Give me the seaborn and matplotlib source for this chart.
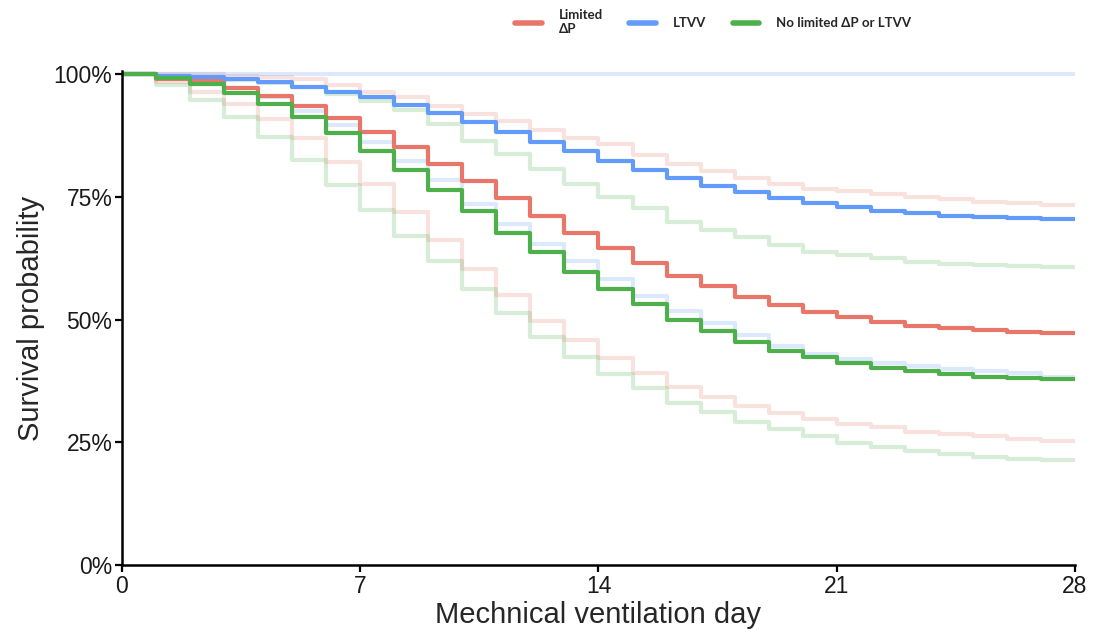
import matplotlib
matplotlib.use("Agg")
import matplotlib.pyplot as plt
from matplotlib import font_manager
from matplotlib.lines import Line2D
import pandas as pd
import seaborn as sns

# ---------------
# DATA (survival %, value held from each day to the next)
# ---------------
days = list(range(0, 29))

limited_dp = [100, 99.0, 98.6, 97.2, 95.6, 93.5, 91.1, 88.2, 85.1, 81.8, 78.3, 74.7, 71.1, 67.6,
              64.7, 61.6, 59.0, 56.8, 54.6, 52.9, 51.5, 50.6, 49.5, 48.8, 48.3, 47.9, 47.5, 47.3, 47.3]
limited_dp_upper = [100, 100, 100, 99.6, 99.4, 99.0, 97.8, 96.5, 95.3, 93.6, 91.9, 90.4, 88.6, 87.0,
                    85.9, 83.6, 81.8, 80.3, 78.8, 77.7, 76.7, 76.2, 75.6, 75.1, 74.5, 74.0, 73.7, 73.4, 73.4]
limited_dp_lower = [100, 98.4, 96.5, 94.0, 90.8, 87.0, 82.2, 77.7, 72.0, 66.3, 60.3, 55.0, 49.7, 45.8,
                    42.1, 39.2, 36.2, 34.3, 32.5, 30.9, 29.8, 28.7, 28.2, 27.2, 26.7, 26.2, 25.7, 25.2, 25.2]

ltvv = [100, 99.7, 99.5, 99.0, 98.4, 97.5, 96.5, 95.3, 93.8, 92.1, 90.3, 88.2, 86.2, 84.3,
        82.4, 80.6, 78.8, 77.2, 76.1, 74.7, 73.7, 72.9, 72.1, 71.7, 71.2, 70.9, 70.7, 70.5, 70.5]
ltvv_upper = [100] * 29
ltvv_lower = [100, 99.2, 98.5, 97.2, 95.3, 92.6, 89.7, 86.2, 82.4, 78.4, 73.5, 69.6, 65.4, 61.9,
              58.2, 54.9, 51.7, 49.4, 46.9, 44.6, 43.1, 41.9, 41.2, 40.6, 39.9, 39.6, 39.2, 38.3, 38.3]

neither = [100, 99.2, 98.0, 96.1, 94.0, 91.3, 88.0, 84.4, 80.5, 76.4, 72.2, 67.7, 63.7, 59.8,
           56.2, 53.1, 50.0, 47.7, 45.5, 43.7, 42.3, 41.2, 40.2, 39.6, 38.9, 38.4, 38.1, 37.9, 37.9]
neither_upper = [100, 99.6, 99.3, 98.8, 98.2, 97.4, 96.0, 94.5, 92.8, 89.9, 86.5, 83.8, 80.8, 77.7,
                 75.1, 72.7, 70.0, 68.3, 66.9, 65.3, 63.7, 63.2, 62.5, 61.7, 61.3, 61.1, 60.9, 60.7, 60.7]
neither_lower = [100, 97.8, 94.8, 91.3, 87.2, 82.5, 77.5, 72.4, 67.1, 61.9, 56.3, 51.3, 46.5, 42.4,
                 38.9, 36.0, 33.0, 31.1, 29.1, 27.7, 26.3, 24.9, 24.0, 23.3, 22.7, 22.1, 21.6, 21.4, 21.4]

groups = ["Limited\nΔP", "LTVV", "No limited ΔP or LTVV"]
x_ticks = [0, 7, 14, 21, 28]
y_ticks = [0, 0.25, 0.5, 0.75, 1.0]
y_tick_labels = ["0%", "25%", "50%", "75%", "100%"]

colours = {"Limited\nΔP": "#E8776A", "LTVV": "#629BFA", "No limited ΔP or LTVV": "#4DB04A"}

main_df = pd.DataFrame({
    "day": days * 3,
    "surv": [v / 100 for v in limited_dp + ltvv + neither],
    "group": [g for g in groups for _ in days],
})
ci_df = pd.DataFrame({
    "day": days * 6,
    "surv": [v / 100 for v in limited_dp_upper + limited_dp_lower + ltvv_upper + ltvv_lower
             + neither_upper + neither_lower],
    "group": [g for g in groups for _ in range(2) for _ in days],
    "band": [f"{g}_{b}" for g in groups for b in ("upper", "lower") for _ in days],
})

# ---------------
# PLOTTING
# ---------------
sns.set_style("ticks")
installed = {f.name for f in font_manager.fontManager.ttflist}
narrow = "Liberation Sans Narrow" in installed
plt.rcParams["font.family"] = ["Liberation Sans Narrow", "Liberation Sans", "DejaVu Sans"] if narrow \
    else ["Liberation Sans", "DejaVu Sans"]
tick_size = 19 if narrow else 16.5
label_size = 24 if narrow else 21

fig = plt.figure(figsize=(10.94, 6.32), dpi=100)
ax = fig.add_axes([0.1115, 0.106, 0.8711, 0.781])

sns.lineplot(data=ci_df, x="day", y="surv", hue="group", units="band", estimator=None,
             palette=colours, drawstyle="steps-post", linewidth=3, alpha=0.22,
             legend=False, ax=ax)
sns.lineplot(data=main_df, x="day", y="surv", hue="group", palette=colours,
             drawstyle="steps-post", linewidth=3, legend=False, ax=ax)

ax.set_xlim(0, 28)
ax.set_ylim(0, 1.006)
ax.set_xticks(x_ticks)
ax.set_yticks(y_ticks)
ax.set_yticklabels(y_tick_labels)
ax.tick_params(axis="both", labelsize=tick_size, width=1.6, length=5, color="black",
               labelcolor="#1a1a1a", pad=2)
ax.set_xlabel("Mechnical ventilation day", fontsize=label_size, labelpad=2)
ax.set_ylabel("Survival probability", fontsize=label_size, labelpad=6)
for side in ("left", "bottom"):
    ax.spines[side].set_linewidth(1.8)
    ax.spines[side].set_color("black")
sns.despine(ax=ax)

handles = [Line2D([], [], color=colours[g], linewidth=4) for g in groups]
leg = fig.legend(handles, groups, loc="center", bbox_to_anchor=(0.652, 0.965), ncol=3,
                 frameon=False, handlelength=2.0, handletextpad=1.3, columnspacing=2.0,
                 prop={"family": ["Lato", "DejaVu Sans"], "weight": "bold", "size": 9.5})

fig.savefig("out.png", dpi=100)
